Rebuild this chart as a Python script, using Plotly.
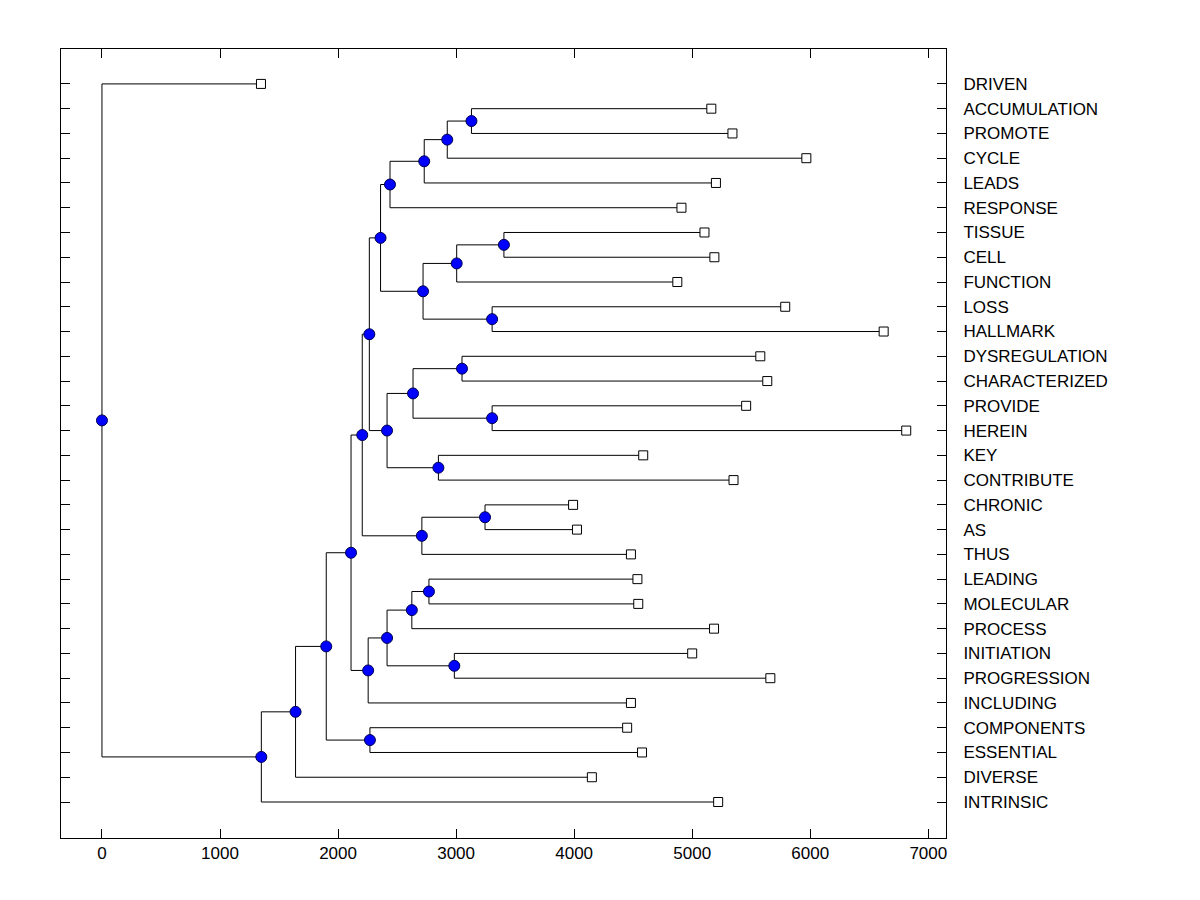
import plotly.graph_objects as go

# Leaves, top to bottom, with their heights (x values)
leaf_names = ["DRIVEN", "ACCUMULATION", "PROMOTE", "CYCLE", "LEADS", "RESPONSE",
              "TISSUE", "CELL", "FUNCTION", "LOSS", "HALLMARK", "DYSREGULATION",
              "CHARACTERIZED", "PROVIDE", "HEREIN", "KEY", "CONTRIBUTE", "CHRONIC",
              "AS", "THUS", "LEADING", "MOLECULAR", "PROCESS", "INITIATION",
              "PROGRESSION", "INCLUDING", "COMPONENTS", "ESSENTIAL", "DIVERSE", "INTRINSIC"]
leaf_x = [1347, 5162, 5341, 5967, 5201, 4909,
          5104, 5188, 4874, 5788, 6622, 5577,
          5636, 5457, 6813, 4585, 5350, 3991,
          4024, 4481, 4536, 4543, 5185, 5000,
          5662, 4481, 4449, 4575, 4150, 5220]

# Internal nodes: name, first child, second child, height
node_names = ["A", "B", "C", "D", "G", "H", "I", "F", "E", "L", "N", "M", "O", "K", "J",
              "R", "Q", "P", "U", "V", "X", "W", "T", "S", "Z", "Y", "AA", "BB", "ROOT"]
node_child1 = ["ACCUMULATION", "A", "B", "C", "TISSUE", "G", "LOSS", "H", "D",
               "DYSREGULATION", "PROVIDE", "L", "KEY", "M", "E",
               "CHRONIC", "R", "J", "LEADING", "U", "INITIATION", "V", "W", "P",
               "COMPONENTS", "S", "Y", "AA", "DRIVEN"]
node_child2 = ["PROMOTE", "CYCLE", "LEADS", "RESPONSE", "CELL", "FUNCTION", "HALLMARK", "I", "F",
               "CHARACTERIZED", "HEREIN", "N", "CONTRIBUTE", "O", "K",
               "AS", "THUS", "Q", "MOLECULAR", "PROCESS", "PROGRESSION", "X", "INCLUDING", "T",
               "ESSENTIAL", "Z", "DIVERSE", "INTRINSIC", "BB"]
node_x = [3130, 2925, 2730, 2440, 3405, 3005, 3305, 2720, 2360, 3050, 3305, 2635, 2850, 2415, 2265,
          3245, 2710, 2205, 2770, 2625, 2985, 2415, 2255, 2110, 2270, 1900, 1640, 1350, 0]

# positions
n_leaves = len(leaf_names)
pos = {}
for i, nm in enumerate(leaf_names):
    pos[nm] = (leaf_x[i], n_leaves - i)
for nm, c1, c2, x in zip(node_names, node_child1, node_child2, node_x):
    y = (pos[c1][1] + pos[c2][1]) / 2.0
    pos[nm] = (x, y)

lx, ly = [], []
for nm, c1, c2 in zip(node_names, node_child1, node_child2):
    nx, ny = pos[nm]
    x1, y1 = pos[c1]
    x2, y2 = pos[c2]
    lx += [x1, nx, nx, x2, None]
    ly += [y1, y1, y2, y2, None]

fig = go.Figure()
fig.add_trace(go.Scatter(x=lx, y=ly, mode="lines",
                         line=dict(color="black", width=1),
                         hoverinfo="skip", showlegend=False))
fig.add_trace(go.Scatter(x=[pos[n][0] for n in leaf_names], y=[pos[n][1] for n in leaf_names],
                         mode="markers",
                         marker=dict(symbol="square", size=9, color="white",
                                     line=dict(color="black", width=1)),
                         text=leaf_names, showlegend=False))
fig.add_trace(go.Scatter(x=[pos[n][0] for n in node_names], y=[pos[n][1] for n in node_names],
                         mode="markers",
                         marker=dict(symbol="circle", size=11, color="#0000FF",
                                     line=dict(color="#000050", width=1)),
                         showlegend=False))

font = dict(family="Liberation Sans, Arial, sans-serif", size=17, color="black")
fig.update_layout(
    width=1200, height=900,
    paper_bgcolor="white", plot_bgcolor="white",
    margin=dict(l=53, r=262, t=41, b=70),
    font=font,
    xaxis=dict(range=[-347, 7150], tickvals=[0, 1000, 2000, 3000, 4000, 5000, 6000, 7000],
               ticks="inside", ticklen=9, tickcolor="black", tickwidth=1,
               showline=True, linecolor="black", linewidth=1, mirror="ticks",
               showgrid=False, zeroline=False, tickfont=font),
    yaxis=dict(range=[-0.454, 31.41], side="right",
               tickvals=[pos[n][1] for n in leaf_names], ticktext=leaf_names,
               ticks="inside", ticklen=9, tickcolor="black", tickwidth=1,
               showline=True, linecolor="black", linewidth=1, mirror="ticks",
               showgrid=False, zeroline=False, tickfont=font, ticklabelstandoff=13),
)
fig.write_html("out.html")
